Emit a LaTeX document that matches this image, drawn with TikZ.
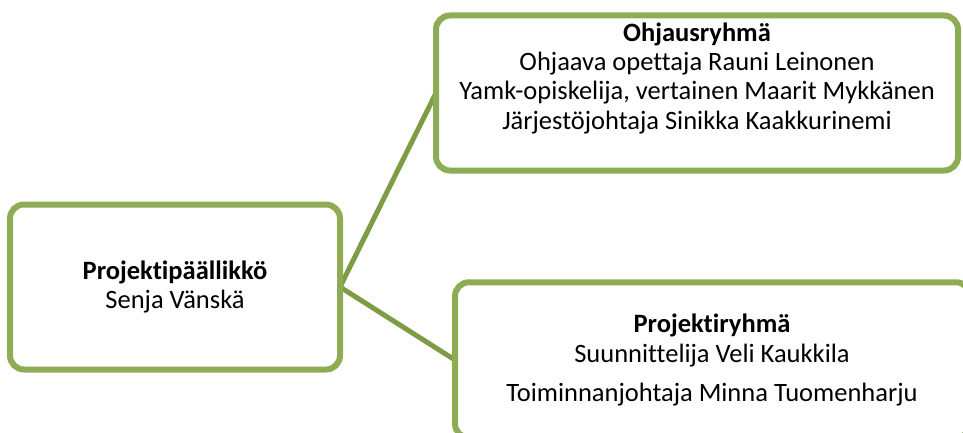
\documentclass[tikz,border=0pt]{standalone}
\usepackage{fontspec}
\setmainfont{Carlito}[Ligatures=NoCommon]
\begin{document}
\definecolor{boxgreen}{HTML}{8DAC54}
\definecolor{linkgreen}{HTML}{7E9C45}
\begin{tikzpicture}[x=1pt,y=-1pt,
  orgbox/.style={draw=boxgreen, fill=white, line width=6pt, rounded corners=14pt,
    inner sep=0pt, outer sep=0pt},
  link/.style={draw=linkgreen, line width=5pt},
  txt/.style={anchor=base, inner sep=0pt, font=\fontsize{26.5}{29}\selectfont},
  head/.style={txt, font=\fontsize{26.5}{29}\selectfont\bfseries}]
\useasboundingbox (0,0) rectangle (963,433);

% connectors from the project manager to both groups
\coordinate (pm) at (175,287);
\coordinate (sg) at (697,93);
\coordinate (pg) at (712.5,360);
\draw[link] (340,287) coordinate (pmE) -- (436,93) coordinate (sgW);
\draw[link] (pmE) -- (455,360) coordinate (pgW);

% boxes
\node[orgbox, minimum width=330pt, minimum height=165pt] (manager) at (pm) {};
\node[orgbox, minimum width=522pt, minimum height=155pt] (steering) at (sg) {};
\node[orgbox, minimum width=515pt, minimum height=155.5pt] (project) at (pg) {};

% project manager
\node[head] (pmTitle) at (175,279) {Projektipäällikkö};
\node[txt] (pmName) at (175,308) {Senja Vänskä};

% steering group
\node[head] (sgTitle) at (697,42) {Ohjausryhmä};
\node[txt] (sgA) at (697,71) {Ohjaava opettaja Rauni Leinonen};
\node[txt] (sgB) at (697,100) {Yamk-opiskelija, vertainen Maarit Mykkänen};
\node[txt] (sgC) at (697,129) {Järjestöjohtaja Sinikka Kaakkurinemi};

% project group
\node[head] (pgTitle) at (712,332) {Projektiryhmä};
\node[txt] (pgA) at (712,362) {Suunnittelija Veli Kaukkila};
\node[txt] (pgB) at (712,401) {Toiminnanjohtaja Minna Tuomenharju};
\end{tikzpicture}
\end{document}
